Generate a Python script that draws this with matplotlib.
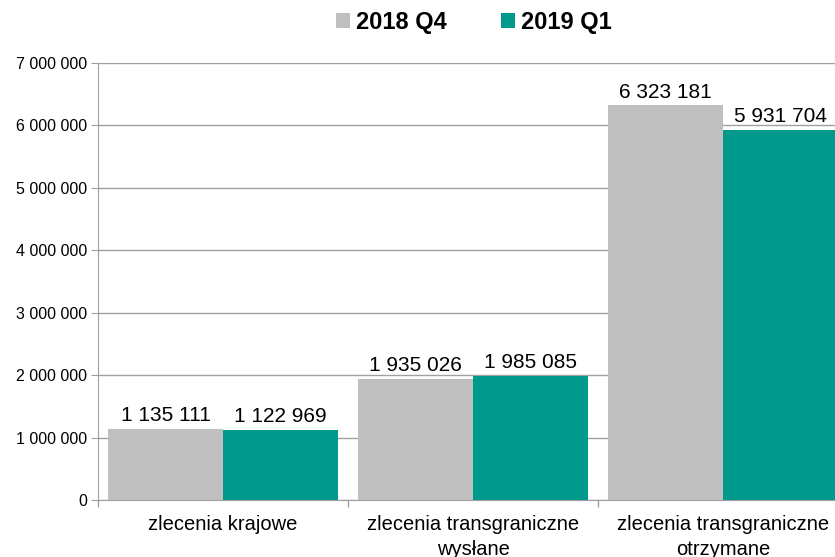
import numpy as np
import matplotlib
matplotlib.use("Agg")
import matplotlib.pyplot as plt
from matplotlib.ticker import FuncFormatter

# data
categories = ["zlecenia krajowe", "zlecenia transgraniczne\nwysłane", "zlecenia transgraniczne\notrzymane"]
q4_2018 = [1135111, 1935026, 6323181]
q1_2019 = [1122969, 1985085, 5931704]
series_names = ["2018 Q4", "2019 Q1"]

gray = "#bfbfbf"
teal = "#009a8c"

plt.rcParams['font.family'] = ['Liberation Sans', 'DejaVu Sans']

fig = plt.figure(figsize=(8.35, 5.57), dpi=100)
# axes spans 98px..835px, y 63px..500px
ax = fig.add_axes([98 / 835, 57 / 557, 737 / 835, 437 / 557])

x = np.arange(len(categories))
w = 0.46
b1 = ax.bar(x - w / 2, q4_2018, w, color=gray, label=series_names[0], zorder=3)
b2 = ax.bar(x + w / 2, q1_2019, w, color=teal, label=series_names[1], zorder=3)

def spaced(v):
    return f"{int(v):,}".replace(",", " ")

for bars in (b1, b2):
    for r in bars:
        ax.text(r.get_x() + r.get_width() / 2, r.get_height() + 60000, spaced(r.get_height()),
                ha="center", va="bottom", fontsize=15, zorder=4)

ax.set_yticks(np.arange(0, 7000001, 1000000))
ax.yaxis.set_major_formatter(FuncFormatter(lambda v, p: spaced(v)))
ax.set_xticks(x)
ax.set_xticklabels(categories, fontsize=14.5, linespacing=1.4)
ax.set_xticks([-0.5, 0.5, 1.5], minor=True)
# limits after ticks, otherwise set_xticks widens the view
ax.set_ylim(0, 7000000)
ax.set_xlim(-0.5, -0.5 + 737 / 250)
ax.tick_params(axis="x", which="major", length=0, pad=11)
ax.tick_params(axis="x", which="minor", length=5, color="#a0a0a0", width=1)
ax.tick_params(axis="y", length=5, color="#a0a0a0", labelsize=11.5, pad=3)

ax.grid(axis="y", color="#a0a0a0", linewidth=1, zorder=0)
for s in ("top", "right"):
    ax.spines[s].set_visible(False)
ax.spines["left"].set_color("#a0a0a0")
ax.spines["bottom"].set_color("#a0a0a0")

fig.legend(handles=[b1, b2], loc="center", bbox_to_anchor=(474 / 835, 1 - 22 / 557), ncol=2,
           frameon=False, prop={"weight": "bold", "size": 17}, handlelength=0.6,
           handleheight=0.6, handletextpad=0.25, columnspacing=2.3,
           borderpad=0, borderaxespad=0)

fig.savefig("out.png", dpi=100)
